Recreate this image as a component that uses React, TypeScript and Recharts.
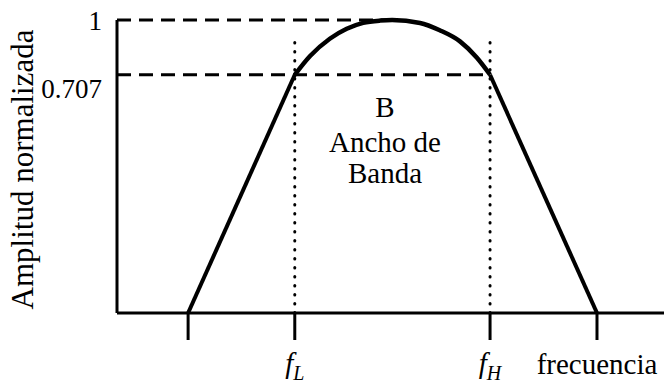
import React from 'react';
import { LineChart, Line, XAxis, YAxis, ReferenceLine, ReferenceDot, Label } from 'recharts';

// frequency in arbitrary units (0..100 across the plot), amplitude as drawn height (0..1)
const freqTicks = [13, 32.5, 68.2, 87.75];
const freqLabels = ['', 'fL', 'fH', 'frecuencia'];

const ampTicks = [0.813, 1];
const ampLabels = ['0.707', '1'];

const leftSlope = [
	{ f: 13, a: 0 },
	{ f: 32.5, a: 0.813 },
];

const passBand = [
	{ f: 32.5, a: 0.813 },
	{ f: 35.3, a: 0.877 },
	{ f: 38.9, a: 0.936 },
	{ f: 42.0, a: 0.97 },
	{ f: 45.0, a: 0.99 },
	{ f: 48.1, a: 0.998 },
	{ f: 50.3, a: 1.0 },
	{ f: 55.4, a: 0.99 },
	{ f: 59.0, a: 0.965 },
	{ f: 62.7, a: 0.927 },
	{ f: 65.8, a: 0.871 },
	{ f: 68.2, a: 0.813 },
];

const rightSlope = [
	{ f: 68.2, a: 0.813 },
	{ f: 87.75, a: 0 },
];

const bandLines = ['B', 'Ancho de', 'Banda'];

const FONT = '"Liberation Serif", "Times New Roman", serif';

const FreqTick = (props: any) => {
	const { x, y, payload } = props;
	const i = freqTicks.indexOf(payload.value);
	const lbl = freqLabels[i] || '';
	if (!lbl) return null;
	if (lbl.length === 2) {
		return (
			<text x={x} y={y} dy={31} textAnchor="middle" fontFamily={FONT} fontSize={29} fill="#000">
				<tspan fontStyle="italic">{lbl[0]}</tspan>
				<tspan fontStyle="italic" fontSize={20} dy={7}>
					{lbl[1]}
				</tspan>
			</text>
		);
	}
	return (
		<text x={x} y={y} dy={32} textAnchor="middle" fontFamily={FONT} fontSize={29} fill="#000">
			{lbl}
		</text>
	);
};

const AmpTick = (props: any) => {
	const { x, y, payload } = props;
	const i = ampTicks.indexOf(payload.value);
	return (
		<text x={x} y={y} dy={i === 0 ? 23 : 10} textAnchor="end" fontFamily={FONT} fontSize={27} fill="#000">
			{ampLabels[i]}
		</text>
	);
};

const bandDy = [-35, 0, 31];

const BandLabel = (props: any) => {
	const { viewBox } = props;
	const cx = viewBox.x;
	const cy = viewBox.y;
	return (
		<g>
			{bandLines.map((t, i) => (
				<text key={t} x={cx} y={cy + bandDy[i]} textAnchor="middle" fontFamily={FONT} fontSize={29} fill="#000">
					{t}
				</text>
			))}
		</g>
	);
};

const AxisTitle = (props: any) => {
	const { viewBox } = props;
	const cy = viewBox.y + viewBox.height / 2 + 3;
	return (
		<text x={33} y={cy} transform={`rotate(-90, 33, ${cy})`} textAnchor="middle" fontFamily={FONT} fontSize={31} fill="#000">
			Amplitud normalizada
		</text>
	);
};

export default function App() {
	return (
		<div style={{ position: 'absolute', left: 0, top: 0, background: '#fff' }}>
			<LineChart width={664} height={389} margin={{ top: 20, right: 0, bottom: 0, left: 0 }}>
				<XAxis
					type="number"
					dataKey="f"
					domain={[0, 100]}
					ticks={freqTicks}
					interval={0}
					height={76}
					tickSize={27}
					tick={<FreqTick />}
					axisLine={{ stroke: '#000', strokeWidth: 3 }}
					tickLine={{ stroke: '#000', strokeWidth: 3 }}
				/>
				<YAxis
					type="number"
					domain={[0, 1]}
					ticks={ampTicks}
					interval={0}
					width={117}
					tickSize={13}
					tickLine={false}
					tick={<AmpTick />}
					axisLine={{ stroke: '#000', strokeWidth: 3 }}
				>
					<Label content={<AxisTitle />} />
				</YAxis>
				<ReferenceLine
					segment={[{ x: 0, y: 1 }, { x: 50.3, y: 1 }]}
					stroke="#000"
					strokeWidth={3}
					strokeDasharray="14 8"
				/>
				<ReferenceLine
					segment={[{ x: 0, y: 0.813 }, { x: 68.2, y: 0.813 }]}
					stroke="#000"
					strokeWidth={3}
					strokeDasharray="14 8"
				/>
				<ReferenceLine
					segment={[{ x: 32.5, y: 0 }, { x: 32.5, y: 0.95 }]}
					stroke="#000"
					strokeWidth={3}
					strokeLinecap="round"
					strokeDasharray="0.5 8.5"
				/>
				<ReferenceLine
					segment={[{ x: 68.2, y: 0 }, { x: 68.2, y: 0.95 }]}
					stroke="#000"
					strokeWidth={3}
					strokeLinecap="round"
					strokeDasharray="0.5 8.5"
				/>
				<Line data={leftSlope} dataKey="a" type="linear" stroke="#000" strokeWidth={4} dot={false} activeDot={false} isAnimationActive={false} />
				<Line data={passBand} dataKey="a" type="monotone" stroke="#000" strokeWidth={4.5} dot={false} activeDot={false} isAnimationActive={false} />
				<Line data={rightSlope} dataKey="a" type="linear" stroke="#000" strokeWidth={4} dot={false} activeDot={false} isAnimationActive={false} />
				<ReferenceDot x={49} y={0.55} r={0} stroke="none" fill="none" label={<BandLabel />} />
			</LineChart>
		</div>
	);
}
